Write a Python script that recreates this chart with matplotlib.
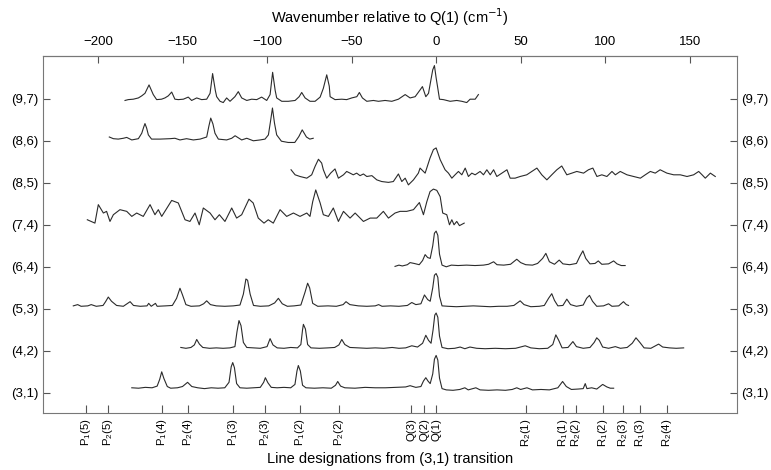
import matplotlib.pyplot as plt

# band labels, bottom to top
bands = ['(3,1)', '(4,2)', '(5,3)', '(6,4)', '(7,4)', '(8,5)', '(8,6)', '(9,7)']

# line designations from (3,1) transition (cm-1 relative to Q(1))
line_pos = [-207, -194.3, -162.3, -146.9, -120.3, -101.2, -80.5, -57.2,
            -14.6, -6.9, 0, 52.9, 74.8, 82.9, 98.5, 110.3, 120.3, 136.5]
line_names = ['$\\mathregular{P_1}$(5)', '$\\mathregular{P_2}$(5)', '$\\mathregular{P_1}$(4)', '$\\mathregular{P_2}$(4)',
              '$\\mathregular{P_1}$(3)', '$\\mathregular{P_2}$(3)', '$\\mathregular{P_1}$(2)', '$\\mathregular{P_2}$(2)',
              'Q(3)', 'Q(2)', 'Q(1)',
              '$\\mathregular{R_2}$(1)', '$\\mathregular{R_1}$(1)', '$\\mathregular{R_2}$(2)', '$\\mathregular{R_1}$(2)',
              '$\\mathregular{R_2}$(3)', '$\\mathregular{R_1}$(3)', '$\\mathregular{R_2}$(4)']

top_ticks = [-200, -150, -100, -50, 0, 50, 100, 150]

# spectra: wavenumber and signal for each band
w31 = [-180, -176, -172, -168, -165, -163.5, -162.3, -161, -159, -157, -153, -150, -147, -144.5, -141, -137,
       -133, -129, -125, -122.5, -121.2, -120.3, -119.3, -118, -116, -112, -108, -104, -102, -101, -99.5, -97.5,
       -94, -90, -86, -83.5, -82.3, -81.5, -80.3, -79, -77, -72, -67, -62, -59.5, -58.2, -56.5, -54, -48, -42,
       -36, -30, -24, -18, -15.4, -12, -9, -7.5, -6.1, -4.8, -3.5, -2, -1, 0, 1, 2, 3.5, 6, 10, 14, 17, 19,
       23.5, 26, 31, 36, 41, 45, 47.7, 50, 53.7, 57, 62, 67, 72, 74.8, 77, 80, 84, 87, 88.2, 89.2, 92, 95,
       98.5, 101, 103, 105]
s31 = [0.12, 0.11, 0.13, 0.12, 0.16, 0.32, 0.50, 0.34, 0.15, 0.11, 0.12, 0.15, 0.25, 0.15, 0.12, 0.10,
       0.12, 0.11, 0.12, 0.25, 0.62, 0.72, 0.60, 0.22, 0.12, 0.11, 0.12, 0.13, 0.25, 0.36, 0.24, 0.13,
       0.12, 0.13, 0.12, 0.20, 0.52, 0.65, 0.52, 0.18, 0.12, 0.11, 0.12, 0.11, 0.18, 0.27, 0.16, 0.12, 0.11, 0.13,
       0.12, 0.12, 0.13, 0.14, 0.17, 0.13, 0.15, 0.28, 0.36, 0.28, 0.22, 0.45, 0.80, 0.89, 0.78, 0.35, 0.10, 0.07, 0.06, 0.08, 0.12, 0.07,
       0.12, 0.07, 0.06, 0.07, 0.06, 0.08, 0.12, 0.08, 0.12, 0.07, 0.08, 0.07, 0.12, 0.27, 0.15, 0.08, 0.09, 0.10, 0.22, 0.10, 0.12, 0.09,
       0.20, 0.14, 0.11, 0.11]

w42 = [-151, -148, -145, -143, -141.6, -140, -138, -134, -130, -126, -122, -119, -117.8, -116.6, -115.4, -114,
       -112, -108, -104, -100, -98.2, -96.5, -94, -90, -86, -82, -80, -79, -78.5, -77.3, -76, -74, -69, -64,
       -60, -57.5, -55.8, -54, -51, -46, -41, -36, -31, -26, -22, -18, -14.4, -11, -8, -6.1, -4.5, -3, -1.8,
       -0.8, 0, 1, 2, 3.5, 7, 11, 14.2, 17, 20, 24, 29, 35, 41, 47, 52.7, 56, 61, 66, 69, 70.8, 72.5, 74.5,
       78, 80.9, 83, 87, 91, 93.5, 95, 96.5, 98.5, 102, 106, 109, 113, 116, 118.2, 120.5, 123, 127, 131.6,
       134, 138, 142, 146.4]
s42 = [0.08, 0.06, 0.08, 0.14, 0.27, 0.16, 0.08, 0.06, 0.07, 0.06, 0.07, 0.10, 0.45, 0.72, 0.60, 0.20,
       0.08, 0.07, 0.06, 0.10, 0.29, 0.14, 0.07, 0.06, 0.08, 0.07, 0.15, 0.50, 0.63, 0.52, 0.15, 0.07, 0.06, 0.07,
       0.08, 0.14, 0.27, 0.15, 0.08, 0.07, 0.06, 0.07, 0.06, 0.08, 0.06, 0.07, 0.12, 0.09, 0.18, 0.37, 0.25, 0.18, 0.50,
       0.85, 0.90, 0.80, 0.35, 0.08, 0.05, 0.06, 0.09, 0.05, 0.09, 0.06, 0.05, 0.06, 0.05, 0.06, 0.12, 0.07, 0.05, 0.06, 0.15, 0.38, 0.25, 0.07,
       0.08, 0.22, 0.10, 0.06, 0.08, 0.20, 0.31, 0.25, 0.09, 0.06, 0.10, 0.06, 0.08, 0.18, 0.31, 0.20, 0.07, 0.06, 0.16,
       0.09, 0.07, 0.06, 0.07]

w53 = [-214.6, -212, -210, -206, -204, -201, -197, -195.5, -193.9, -192, -189, -185, -181, -179, -175, -171,
       -170, -168.5, -166, -165, -160, -156, -153.5, -151.5, -150, -148, -145, -140, -137.5, -135.7, -133.5, -130,
       -125, -120, -116, -114, -112.5, -111.5, -110, -108, -104, -99, -95.5, -93.3, -91, -88, -84, -80, -77.5,
       -76, -74.8, -73, -70, -64, -59, -55, -53.3, -51, -46, -41, -36, -34, -32, -27, -22, -17, -14.4, -12, -9,
       -6.9, -5, -3.5, -2, -1, 0, 1, 2, 3.5, 7, 12, 17, 22, 27, 32, 37, 42, 46, 49.7, 52, 56, 61, 64, 66.5, 68.4,
       70, 72, 75, 77.3, 79.5, 83, 87, 89, 90.7, 92.5, 95, 99, 102, 104, 108, 110.8, 112.5, 113.8]
s53 = [0.07, 0.10, 0.06, 0.07, 0.10, 0.06, 0.08, 0.17, 0.28, 0.18, 0.08, 0.06, 0.17, 0.08, 0.06, 0.07,
       0.13, 0.06, 0.13, 0.06, 0.07, 0.08, 0.25, 0.49, 0.33, 0.10, 0.06, 0.07, 0.12, 0.19, 0.10, 0.07,
       0.06, 0.07, 0.09, 0.35, 0.71, 0.68, 0.35, 0.08, 0.06, 0.07, 0.14, 0.25, 0.12, 0.06, 0.07, 0.09, 0.40,
       0.61, 0.50, 0.13, 0.06, 0.07, 0.06, 0.10, 0.17, 0.10, 0.07, 0.06, 0.07, 0.10, 0.06, 0.07, 0.06, 0.08, 0.15, 0.10, 0.12,
       0.33, 0.22, 0.18, 0.50, 0.80, 0.84, 0.75, 0.30, 0.07, 0.06, 0.05, 0.06, 0.07, 0.06, 0.05, 0.06, 0.06, 0.08, 0.19, 0.10, 0.05, 0.06, 0.08, 0.25, 0.36,
       0.20, 0.07, 0.08, 0.23, 0.10, 0.06, 0.09, 0.25, 0.32, 0.18, 0.06, 0.07, 0.12, 0.06, 0.07, 0.17, 0.10, 0.08]

w64 = [-24.3, -22, -20, -17, -15.4, -13, -10, -8, -6.5, -5, -3.5, -2, -1, 0, 1, 2, 3.5, 6, 9, 13, 18, 23,
       28, 31, 34, 36, 40, 44, 47.7, 50, 53, 57, 60, 63, 64.9, 67, 70, 72.8, 75, 79, 83, 85, 86.8, 88.5, 91,
       94, 95.9, 98, 102, 105, 107, 109.5, 111.8]
s64 = [0.01, 0.04, 0.02, 0.05, 0.10, 0.08, 0.05, 0.15, 0.29, 0.22, 0.20, 0.50, 0.80, 0.85, 0.75, 0.30, 0.04, 0.00, 0.04, 0.03, 0.04, 0.03,
       0.04, 0.06, 0.12, 0.05, 0.04, 0.06, 0.18, 0.10, 0.05, 0.04, 0.08, 0.20, 0.32, 0.12, 0.06, 0.16, 0.07, 0.05, 0.08, 0.25, 0.38, 0.20, 0.07,
       0.08, 0.14, 0.06, 0.07, 0.14, 0.07, 0.03, 0.03]

w74 = [-206.3, -201.8, -199.8, -196.8, -194.9, -192.9, -190.9, -187, -183, -180, -177.1, -173.2, -169.2, -166.3,
       -164.3, -162.3, -159.8, -156.4, -152.5, -148.5, -145.6, -142.6, -140.1, -137.7, -133.7, -130.8, -128.2,
       -124.9, -120.9, -118, -115, -110.7, -108.2, -105.2, -101.8, -99.3, -96.3, -92.3, -88.4, -84.4, -80.5,
       -76.5, -74.6, -73, -71.2, -68.6, -66.7, -63.7, -60.8, -57.8, -54.8, -50.9, -47.9, -43, -39, -35.1, -31.2,
       -28.2, -24.3, -21.3, -17.4, -13.4, -9.9, -7.5, -5.5, -3.6, -1.6, 0.4, 2.4, 3.9, 6.3, 7.9, 9.3, 10.6,
       12.2, 13.8, 16.6]
s74 = [0.12, 0.04, 0.48, 0.28, 0.32, 0.08, 0.24, 0.36, 0.32, 0.20, 0.28, 0.20, 0.48, 0.24,
       0.36, 0.20, 0.36, 0.58, 0.52, 0.12, 0.08, 0.28, 0.00, 0.40, 0.28, 0.12, 0.24,
       0.08, 0.40, 0.16, 0.24, 0.61, 0.52, 0.16, 0.04, 0.12, 0.04, 0.36, 0.20, 0.28, 0.20,
       0.28, 0.20, 0.55, 0.83, 0.52, 0.24, 0.20, 0.40, 0.08, 0.32, 0.16, 0.28, 0.08, 0.16, 0.16, 0.32,
       0.16, 0.28, 0.32, 0.32, 0.36, 0.53, 0.24, 0.55, 0.79, 0.85, 0.82, 0.67, 0.28, 0.24, 0.00, 0.12, 0.00,
       0.08, -0.02, 0.04]

w85 = [-85.8, -83.4, -80.5, -76.5, -73.6, -71.6, -69.6, -67.7, -66.7, -64.7, -62.4, -59.8, -57.8, -54.8, -52.9,
       -50.9, -49, -47, -45, -43, -41, -38, -35.1, -32.2, -28.2, -25.3, -22.3, -20.3, -18.3, -16.4, -13.4,
       -10.5, -9.5, -6.5, -3.6, -1.6, 0, 2.4, 5.3, 7.3, 9.3, 11.2, 13.2, 15.2, 17.2, 19.1, 21.1, 23.1, 26, 28,
       30, 32, 34, 35.9, 38.9, 41.9, 43.8, 46.7, 49.7, 53.6, 56.6, 59.6, 62.5, 65.5, 68.4, 71.4, 74.3, 77.3,
       80.3, 83.2, 87.2, 90.1, 92.7, 95.1, 98, 101, 104, 106, 108.9, 112.9, 116.8, 120.8, 123.7, 126.7, 129.6,
       132.5, 136.5, 140.5, 144.4, 148.4, 152.3, 155.3, 157.3, 159.2, 162.2, 165.1]
s85 = [0.31, 0.19, 0.15, 0.11, 0.19, 0.39, 0.56, 0.47, 0.31, 0.11, 0.23, 0.33, 0.11, 0.19, 0.27,
       0.23, 0.19, 0.23, 0.17, 0.21, 0.15, 0.17, 0.07, 0.03, 0.01, 0.03, 0.21, 0.03, 0.11, -0.05, 0.07,
       0.23, 0.35, 0.23, 0.59, 0.79, 0.83, 0.55, 0.31, 0.23, 0.11, 0.19, 0.27, 0.19, 0.35, 0.15, 0.23, 0.19, 0.27, 0.19,
       0.31, 0.19, 0.31, 0.15, 0.23, 0.31, 0.11, 0.11, 0.15, 0.19, 0.27, 0.35, 0.19, 0.07, 0.19, 0.31, 0.40, 0.19,
       0.23, 0.27, 0.23, 0.31, 0.35, 0.15, 0.19, 0.15, 0.27, 0.19, 0.27, 0.19, 0.15, 0.11, 0.19, 0.27, 0.23,
       0.31, 0.23, 0.19, 0.19, 0.15, 0.19, 0.27, 0.19, 0.11, 0.23, 0.15]

w86 = [-193.3, -190.9, -188, -185, -183, -180, -176.1, -174.1, -173, -172.2, -171.2, -170.2, -168.3, -163.3,
       -157.4, -154.5, -151.5, -147.6, -143.6, -139.6, -135.7, -134.4, -133.3, -132, -130.8, -128.8, -123.9,
       -120.9, -118.9, -115, -112, -108.1, -104.1, -101.2, -99.2, -98, -96.8, -95.6, -94.3, -91.5, -87.5,
       -83.6, -81.2, -79.2, -76.7, -74.7, -72.7]
s86 = [0.09, 0.05, 0.04, 0.06, 0.08, 0.02, 0.05, 0.18, 0.32, 0.41, 0.30, 0.14, 0.04, 0.04,
       0.05, 0.06, 0.02, 0.05, 0.02, 0.04, 0.09, 0.35, 0.54, 0.40, 0.18, 0.04, 0.02,
       0.06, 0.12, 0.02, 0.06, 0.00, 0.02, 0.04, 0.14, 0.45, 0.78, 0.42, 0.14, -0.01, -0.04,
       -0.04, 0.10, 0.26, 0.09, 0.04, 0.06]

w97 = [-184, -182.1, -179.1, -176.1, -174.1, -172.2, -169.8, -167.3, -165.3, -162.4, -160.4, -158.4, -156.4,
       -154.5, -152.5, -149.5, -146.6, -144.6, -141.6, -138.7, -135.7, -133.7, -132.2, -130.6, -129.8, -127.8,
       -125.9, -123.9, -121.9, -119, -117, -115, -112, -109.1, -106.1, -103.2, -100.2, -98.2, -96.7, -95.2,
       -94.3, -91.3, -87.4, -83.4, -81, -79.5, -77.5, -74.6, -71.6, -68.6, -66.7, -64.7, -63.2, -62.7, -59.8,
       -55.8, -52.9, -49.9, -46.9, -45.4, -43.6, -41, -37.1, -34.1, -30.2, -26.2, -22.3, -18.3, -15.4, -12.4,
       -9.5, -8.1, -6.1, -4.5, -2, -1, 0, 0.8, 2, 4.3, 8.3, 12.2, 15.2, 18.1, 20.1, 23.1, 25]
s97 = [-0.04, -0.02, -0.01, 0.02, 0.07, 0.13, 0.33, 0.10, -0.02, -0.01, 0.02, 0.07, 0.16,
       -0.01, -0.02, -0.01, 0.04, -0.04, 0.02, -0.02, -0.01, 0.13, 0.60, 0.20, 0.05, -0.06,
       -0.09, 0.02, -0.06, 0.05, 0.17, 0.02, -0.04, -0.01, -0.02, 0.04, -0.04, 0.10, 0.63, 0.20,
       0.02, -0.06, -0.06, -0.04, 0.05, 0.15, 0.02, -0.06, -0.06, 0.04, 0.25, 0.57, 0.30, 0.05, -0.02,
       -0.01, -0.02, 0.02, 0.05, 0.15, 0.02, -0.06, -0.04, -0.06, -0.04, -0.06, -0.01, 0.10, 0.02, 0.05,
       0.21, 0.29, 0.05, 0.13, 0.69, 0.79, 0.50, 0.30, -0.01, -0.02, -0.06, -0.04, -0.06, -0.09, -0.01, -0.01, 0.10]

spectra = [(w31, s31), (w42, s42), (w53, s53), (w64, s64),
           (w74, s74), (w85, s85), (w86, s86), (w97, s97)]

plt.rcParams['font.family'] = ['Liberation Sans', 'DejaVu Sans']

fig = plt.figure(figsize=(7.71, 4.70), dpi=100)
ax = fig.add_axes([0.0558, 0.1213, 0.9002, 0.7597])

# each band offset by one unit
for i, (w, s) in enumerate(spectra):
    ax.plot(w, [v + i for v in s], color='#2b2b2b', lw=0.8)

ax.set_xlim(-232.5, 178)
ax.set_ylim(-0.48, 8.02)

ax.set_yticks(range(len(bands)), bands)
ax.tick_params(axis='y', direction='in', left=True, right=True,
               labelleft=True, labelright=True, length=5, labelsize=9.5, color='#555555', pad=3)

ax.set_xticks(line_pos, line_names, rotation=90)
ax.tick_params(axis='x', direction='in', length=6, labelsize=8.2, color='#555555', pad=4)
ax.set_xlabel('Line designations from (3,1) transition', fontsize=10.5, labelpad=4)

top = ax.secondary_xaxis('top')
top.set_xticks(top_ticks)
top.tick_params(direction='in', length=5, labelsize=9.5, color='#555555', pad=6)
top.set_xlabel('Wavenumber relative to Q(1) (cm$^{-1}$)', fontsize=10.5, labelpad=9,
               family=['Liberation Sans Narrow', 'Liberation Sans'])

for side in ['left', 'right', 'top', 'bottom']:
    ax.spines[side].set_color('#777777')
    ax.spines[side].set_linewidth(0.8)
top.spines['top'].set_color('#777777')
top.spines['top'].set_linewidth(0.8)

fig.savefig('out.png', dpi=100)
